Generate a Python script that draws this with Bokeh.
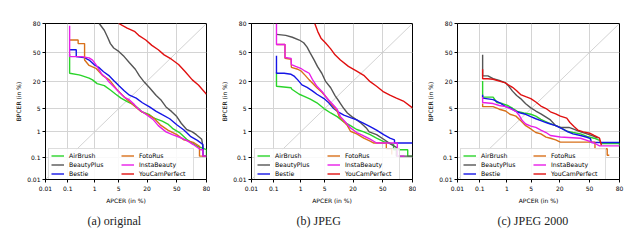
from statistics import NormalDist
from bokeh.plotting import figure
from bokeh.models import (Range1d, FixedTicker, CustomJSTickFormatter, Legend,
                          LegendItem, Title)
from bokeh.layouts import row
from bokeh.embed import file_html
from bokeh.resources import INLINE

# ---------------- data (APCER %, BPCER %) ----------------
SERIES = ["AirBrush", "BeautyPlus", "Bestie", "FotoRus", "InstaBeauty", "YouCamPerfect"]
COLORS = ["#2ad42a", "#555555", "#1515e6", "#d8701a", "#e81ee8", "#e01010"]
TICK_VALUES = [0.01, 0.1, 1, 5, 20, 50, 80]
TICK_LABELS = ["0.01", "0.1", "1", "5", "20", "50", "80"]
DIAG = [0.01, 80]
CAPTIONS = ["(a) original", "(b) JPEG", "(c) JPEG 2000"]
X_LABEL = "APCER (in %)"
Y_LABEL = "BPCER (in %)"

# (a) original
A_AIRBRUSH_APCER = [0.12, 0.12, 0.28, 0.33, 0.65, 0.85, 1.2, 2, 3, 4.2, 5.7, 8, 10.5, 14, 16, 22, 26, 34, 40, 46, 53, 61, 72, 80, 80]
A_AIRBRUSH_BPCER = [48, 27, 25.5, 25, 22.5, 21, 18, 16.5, 13.5, 11, 9, 7.5, 6.5, 5, 4.1, 3.4, 2.7, 2.2, 1.8, 1.25, 0.95, 0.55, 0.3, 0.22, 0.12]
A_BEAUTYPLUS_APCER = [1.4, 2, 2.5, 3, 3.7, 5, 6.8, 9, 12, 14.5, 18, 22, 28, 33, 38, 44, 50, 55, 61, 67, 71, 76, 77, 77, 80]
A_BEAUTYPLUS_BPCER = [80, 74, 67, 60, 55, 51, 45, 38, 31, 24.5, 19, 15, 10.3, 8, 5.5, 4.2, 3.0, 1.9, 1.2, 1.0, 0.8, 0.55, 0.3, 0.12, 0.12]
A_BESTIE_APCER = [0.12, 0.22, 0.22, 0.42, 0.65, 0.95, 1.35, 1.9, 2.8, 3.8, 5, 6.8, 9, 12.5, 16.5, 22, 28, 34, 42, 50, 58, 65, 72, 77, 77, 80]
A_BESTIE_BPCER = [53, 53, 45, 44, 41, 36, 33, 28.5, 24.5, 20, 16.5, 13, 10.5, 9, 7, 5.5, 4.2, 3.4, 2.6, 1.7, 1.15, 0.7, 0.5, 0.35, 0.12, 0.12]
A_FOTORUS_APCER = [0.12, 0.26, 0.26, 0.45, 0.45, 0.65, 1.1, 1.75, 2.8, 4.8, 6.2, 8, 11.5, 15.5, 20.5, 26, 32, 40, 50, 58, 68, 74, 74, 80]
A_FOTORUS_BPCER = [64, 64, 60, 60, 41, 35, 32, 25, 21, 13, 10.5, 8.3, 5.8, 4.2, 3.4, 2.7, 1.7, 1.15, 0.8, 0.52, 0.42, 0.3, 0.12, 0.12]
A_INSTABEAUTY_APCER = [0.12, 0.12, 0.35, 0.65, 0.85, 1.1, 1.35, 1.7, 2.2, 2.8, 3.8, 5, 6.8, 9, 11.5, 14, 19, 25, 30, 38, 45, 53, 61, 68, 75, 77, 77, 80]
A_INSTABEAUTY_BPCER = [78, 45, 45, 43.5, 41, 36, 31, 26, 23, 19, 15.5, 12.5, 9.5, 8.2, 6.3, 4.8, 3.5, 2.5, 1.6, 1.0, 0.8, 0.65, 0.5, 0.35, 0.22, 0.22, 0.12, 0.12]
A_YOUCAMPERFECT_APCER = [5, 8, 11.5, 14, 19, 24, 30, 36, 44, 52, 59, 67, 73, 80]
A_YOUCAMPERFECT_BPCER = [80, 76, 73, 69, 64, 58, 53, 47, 42, 36, 29, 21, 17, 11]

# (b) JPEG
B_AIRBRUSH_APCER = [0.13, 0.13, 0.47, 0.5, 0.9, 1.25, 2, 3.1, 4.8, 7, 9.8, 13.5, 18, 23, 29.5, 36, 43, 51, 62, 62, 76, 76, 80]
B_AIRBRUSH_BPCER = [28, 16, 15, 14, 11, 10, 8.5, 7, 5, 3.8, 3, 2.1, 1.6, 1.2, 1.0, 0.8, 0.6, 0.45, 0.36, 0.22, 0.22, 0.12, 0.12]
B_BEAUTYPLUS_APCER = [0.13, 0.3, 0.52, 0.9, 1.25, 1.6, 2, 2.6, 3.2, 4.2, 5.2, 7, 8.8, 11, 13.5, 15.8, 19, 23, 27, 32, 35, 43, 51, 58, 65, 65, 80]
B_BEAUTYPLUS_BPCER = [70, 69, 67, 64, 61, 56, 49, 41, 34, 27, 20, 15, 10.3, 7.3, 5, 3.8, 3, 2.4, 1.9, 1.35, 1.0, 0.8, 0.55, 0.38, 0.27, 0.12, 0.12]
B_BESTIE_APCER = [0.13, 0.13, 0.26, 0.47, 0.62, 0.8, 1.1, 1.6, 2.3, 3.1, 4.8, 6.3, 8.2, 10.5, 13.5, 18, 23, 29.5, 36, 43, 51, 58, 63, 63, 80]
B_BESTIE_BPCER = [46, 27, 27, 26, 24, 21, 17, 15.2, 13, 11, 8.8, 7, 5, 4, 3.3, 2.8, 2.4, 1.9, 1.5, 1.15, 0.8, 0.6, 0.52, 0.4, 0.4]
B_FOTORUS_APCER = [0.13, 0.28, 0.28, 0.47, 0.48, 0.8, 1.05, 1.4, 1.85, 2.3, 3.1, 4.3, 5.8, 7.4, 9.8, 11, 13.5, 15.8, 18, 23, 29.5, 36, 40, 54, 54, 60, 60]
B_FOTORUS_BPCER = [59, 59, 43, 42, 33, 31, 29, 25, 21, 18.5, 15, 12, 8.8, 6.3, 4.3, 2.9, 2.1, 1.6, 1.05, 0.85, 0.6, 0.47, 0.4, 0.4, 0.24, 0.24, 0.14]
B_INSTABEAUTY_APCER = [0.13, 0.13, 0.28, 0.28, 0.47, 0.48, 0.68, 1.0, 1.4, 1.85, 2.3, 3.1, 4.3, 5.8, 7.4, 9.8, 11.5, 14, 18, 23, 29.5, 36, 43, 66, 66, 73]
B_INSTABEAUTY_BPCER = [80, 59, 59, 44, 43, 36, 34, 32, 29, 27, 21.5, 16, 12.5, 8.8, 6.8, 4.8, 3, 2.2, 1.35, 0.95, 0.72, 0.56, 0.4, 0.4, 0.12, 0.12]
B_YOUCAMPERFECT_APCER = [2.7, 3.3, 4, 5.2, 7, 8.8, 11.5, 16.5, 23, 29.5, 36, 43, 51, 58, 65, 72, 80]
B_YOUCAMPERFECT_BPCER = [80, 72.5, 66, 61, 54, 47, 41, 34, 29, 25, 19.5, 16, 12.3, 10.5, 9, 7.7, 5.2]

# (c) JPEG 2000
C_AIRBRUSH_APCER = [0.13, 0.13, 0.33, 0.45, 0.7, 1.05, 1.5, 2.1, 3.2, 4.9, 6.5, 8.5, 12, 15.5, 20.5, 26, 32, 40, 47, 55, 61, 63, 80, 80]
C_AIRBRUSH_BPCER = [20, 9.5, 9.5, 7.1, 6.7, 6.0, 5.1, 4.2, 3.8, 3.5, 3.1, 2.5, 2.0, 1.7, 1.4, 1.05, 0.95, 0.85, 0.7, 0.6, 0.5, 0.38, 0.38, 0.3]
C_BEAUTYPLUS_APCER = [0.13, 0.13, 0.21, 0.33, 0.55, 0.9, 1.1, 1.5, 2, 2.6, 3.6, 4.9, 6.5, 8.5, 11, 13.5, 17, 20.5, 28, 32, 40, 47, 55, 59]
C_BEAUTYPLUS_BPCER = [47, 24.5, 24.5, 22, 20.5, 18.5, 16.5, 12.8, 10.3, 8.8, 6.6, 5.2, 4.3, 3.6, 2.9, 2.4, 1.6, 1.4, 1.4, 1.25, 1.0, 0.85, 0.7, 0.6]
C_BESTIE_APCER = [0.13, 0.13, 0.33, 0.55, 0.9, 1.25, 1.9, 2.6, 3.6, 4.9, 6.5, 8.5, 11, 13.5, 17, 20.5, 26, 32, 40, 47, 51, 52, 80]
C_BESTIE_BPCER = [10.7, 9, 8.3, 7.1, 5.6, 5.2, 4.2, 3.8, 3.5, 3.0, 2.6, 2.3, 2.0, 1.8, 1.6, 1.35, 1.05, 0.85, 0.75, 0.65, 0.58, 0.42, 0.42]
C_FOTORUS_APCER = [0.13, 0.13, 0.33, 0.55, 0.9, 1.25, 1.9, 2.6, 3.6, 4.9, 6.5, 8.5, 11, 13.5, 17, 20.5, 56, 56, 69, 69, 71]
C_FOTORUS_BPCER = [6.7, 5.6, 5.6, 4.8, 4.3, 3.5, 3.1, 2.3, 1.6, 1.25, 0.95, 0.85, 0.66, 0.6, 0.52, 0.43, 0.43, 0.24, 0.24, 0.13, 0.13]
C_INSTABEAUTY_APCER = [0.13, 0.13, 0.33, 0.55, 0.9, 1.25, 1.9, 2.3, 2.9, 3.6, 4.9, 6.5, 8.5, 11, 13.5, 20.5, 40, 47, 55, 61, 80]
C_INSTABEAUTY_BPCER = [9.6, 7.1, 6.7, 6.0, 5.6, 5.0, 4.2, 3.4, 2.3, 1.8, 1.55, 1.4, 1.15, 0.95, 0.75, 0.66, 0.6, 0.5, 0.4, 0.31, 0.31]
C_YOUCAMPERFECT_APCER = [0.13, 0.13, 0.21, 0.33, 0.55, 0.9, 1.1, 1.5, 2, 2.6, 3.6, 4.9, 6.5, 8.5, 11, 13.5, 17, 20.5, 26, 29, 33, 37, 43, 50, 55, 61, 63]
C_YOUCAMPERFECT_BPCER = [31, 22, 22, 21.5, 20, 18.5, 17, 15.3, 13, 10.8, 9.7, 8.8, 7.3, 5.8, 5, 4.1, 3.6, 3.1, 2.7, 2.0, 1.5, 1.15, 1.0, 0.9, 0.75, 0.6, 0.33]

PANELS = [
    [(A_AIRBRUSH_APCER, A_AIRBRUSH_BPCER), (A_BEAUTYPLUS_APCER, A_BEAUTYPLUS_BPCER),
     (A_BESTIE_APCER, A_BESTIE_BPCER), (A_FOTORUS_APCER, A_FOTORUS_BPCER),
     (A_INSTABEAUTY_APCER, A_INSTABEAUTY_BPCER), (A_YOUCAMPERFECT_APCER, A_YOUCAMPERFECT_BPCER)],
    [(B_AIRBRUSH_APCER, B_AIRBRUSH_BPCER), (B_BEAUTYPLUS_APCER, B_BEAUTYPLUS_BPCER),
     (B_BESTIE_APCER, B_BESTIE_BPCER), (B_FOTORUS_APCER, B_FOTORUS_BPCER),
     (B_INSTABEAUTY_APCER, B_INSTABEAUTY_BPCER), (B_YOUCAMPERFECT_APCER, B_YOUCAMPERFECT_BPCER)],
    [(C_AIRBRUSH_APCER, C_AIRBRUSH_BPCER), (C_BEAUTYPLUS_APCER, C_BEAUTYPLUS_BPCER),
     (C_BESTIE_APCER, C_BESTIE_BPCER), (C_FOTORUS_APCER, C_FOTORUS_BPCER),
     (C_INSTABEAUTY_APCER, C_INSTABEAUTY_BPCER), (C_YOUCAMPERFECT_APCER, C_YOUCAMPERFECT_BPCER)],
]

# ---------------- normal-deviate (DET) scale ----------------
_nd = NormalDist()


def probit(pct):
    return _nd.inv_cdf(pct / 100.0)


TICK_POS = [probit(v) for v in TICK_VALUES]
LO, HI = probit(TICK_VALUES[0]), probit(TICK_VALUES[-1])

FONT = "DejaVu Sans"
CAP_FONT = "Liberation Serif"

# layout per panel: (figure width, left border, frame width, frame height, caption offset)
LAYOUT = [(210, 45, 161, 159, 42), (206, 41, 161, 160, 45), (208, 41, 162, 160, 40)]
TOTAL_H = 232
TOP = 23


def make_panel(i):
    fig_w, left, fw, fh, cap_off = LAYOUT[i]
    p = figure(width=fig_w, height=TOTAL_H,
               x_range=Range1d(LO, HI), y_range=Range1d(LO, HI),
               output_backend="svg", toolbar_location=None,
               min_border_left=left, min_border_right=fig_w - left - fw,
               min_border_top=TOP, min_border_bottom=TOTAL_H - TOP - fh,
               background_fill_color="white", border_fill_color="white")
    p.outline_line_color = "black"
    p.outline_line_width = 1

    ticker = FixedTicker(ticks=TICK_POS, minor_ticks=[])
    fmt = CustomJSTickFormatter(args=dict(pos=TICK_POS, labels=TICK_LABELS), code="""
        let best = 0, d = 1e9;
        for (let k = 0; k < pos.length; k++) {
            const e = Math.abs(pos[k] - tick);
            if (e < d) { d = e; best = k; }
        }
        return labels[best];
    """)
    for ax in (p.xaxis[0], p.yaxis[0]):
        ax.ticker = ticker
        ax.formatter = fmt
        ax.axis_line_color = "black"
        ax.major_tick_line_color = "black"
        ax.major_tick_out = 3
        ax.major_tick_in = 0
        ax.minor_tick_line_color = None
        ax.major_label_text_font = FONT
        ax.major_label_text_font_size = "6px"
        ax.major_label_text_color = "black"
        ax.axis_label_text_font = FONT
        ax.axis_label_text_font_size = "6px"
        ax.axis_label_text_font_style = "normal"
        ax.axis_label_text_color = "black"
    p.xaxis.axis_label = X_LABEL
    p.yaxis.axis_label = Y_LABEL
    p.xaxis.major_label_standoff = 3
    p.yaxis.major_label_standoff = 2
    p.xaxis.axis_label_standoff = 3
    p.yaxis.axis_label_standoff = 2

    for g in (p.xgrid[0], p.ygrid[0]):
        g.ticker = ticker
        g.grid_line_color = "#d4d4d4"
        g.grid_line_width = 1

    dg = [probit(v) for v in DIAG]
    p.line(dg, dg, line_color="#c8c8c8", line_width=0.8)

    items = []
    for (xs, ys), name, col in zip(PANELS[i], SERIES, COLORS):
        r = p.line([probit(v) for v in xs], [probit(v) for v in ys],
                   line_color=col, line_width=1.4)
        items.append(LegendItem(label=name, renderers=[r]))

    leg = Legend(items=items, location=(3, -2), orientation="vertical", nrows=3)
    leg.label_text_font = FONT
    leg.label_text_font_size = "6.2px"
    leg.label_text_color = "black"
    leg.label_height = 9
    leg.label_width = 52
    leg.glyph_height = 9
    leg.glyph_width = 13
    leg.label_standoff = 5
    leg.spacing = 0
    leg.padding = 2
    leg.margin = 0
    leg.border_line_color = "#bbbbbb"
    leg.border_line_width = 1
    leg.background_fill_alpha = 0.85
    p.add_layout(leg, "center")

    cap = Title(text=CAPTIONS[i], align="left", offset=cap_off,
                text_font=CAP_FONT, text_font_size="12px",
                text_font_style="normal", text_color="#222222", standoff=10)
    p.add_layout(cap, "below")
    return p


layout = row(*[make_panel(i) for i in range(3)])
open("out.html", "w").write(file_html(layout, INLINE))
